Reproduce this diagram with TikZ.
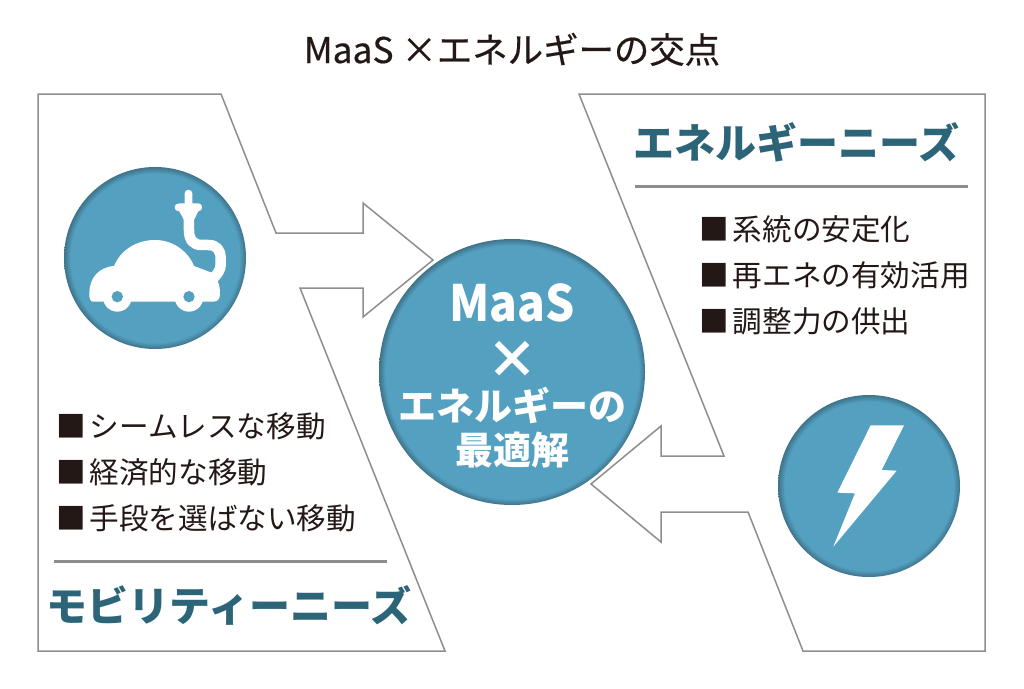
\documentclass[tikz,border=0pt]{standalone}
\usepackage{graphicx}
\usepackage{fontspec}
\setmainfont{Noto Sans CJK JP}
\newfontfamily\titlefont[FakeBold=0.5]{Noto Sans CJK JP}
\newcommand{\sqmark}{■\hspace{4pt}}
\definecolor{tealmain}{HTML}{54A0C1}
\definecolor{tealrim}{HTML}{3E7389}
\definecolor{headcol}{HTML}{2C6478}
\definecolor{inkcol}{HTML}{231815}
\definecolor{framecol}{HTML}{8E8E8E}
\definecolor{rulecol}{HTML}{8C8C8C}
\pgfdeclareradialshading{rimsmall}{\pgfpoint{0bp}{0bp}}{color(0bp)=(tealmain); color(23.2bp)=(tealmain); color(25bp)=(tealrim); color(50bp)=(tealrim)}
\pgfdeclareradialshading{rimbig}{\pgfpoint{0bp}{0bp}}{color(0bp)=(tealmain); color(23.8bp)=(tealmain); color(25bp)=(tealrim); color(50bp)=(tealrim)}
\tikzset{
  panel/.style={draw=framecol,line width=1.5pt,fill=white,line join=miter},
  disc/.style={circle,minimum size=182pt,inner sep=0pt,shading=rimsmall},
  bigdisc/.style={circle,minimum size=266pt,inner sep=0pt,shading=rimbig},
  titletext/.style={anchor=base,text=inkcol,font=\titlefont\fontsize{35.4}{36}\selectfont,inner sep=0pt},
  headtext/.style={anchor=base,text=headcol,font=\bfseries\fontsize{41}{41}\selectfont,inner sep=0pt},
  itemtext/.style={anchor=base west,text=inkcol,font=\fontsize{29.6}{30}\selectfont,inner sep=0pt},
  hubtext/.style={anchor=base,text=white,font=\bfseries\fontsize{38}{38}\selectfont,inner sep=0pt},
  rulebar/.style={draw=rulecol,line width=3pt},
  iconfill/.style={fill=white,draw=none},
}
\begin{document}
\begin{tikzpicture}[x=1pt,y=-1pt]
\useasboundingbox (0,0) rectangle (1024,688);
\fill[white] (0,0) rectangle (1024,688);
% panels
\draw[panel] (38,94) -- (221,94) -- (276,233) -- (363,233) -- (363,203) -- (433,260) -- (363,317) -- (363,288) -- (300,288) -- (445,651) -- (38,651) -- cycle;
\draw[panel] (579,94) -- (985,94) -- (985,651) -- (803,651) -- (748,512) -- (661,512) -- (661,542) -- (591,484) -- (661,426) -- (661,456) -- (724,456) -- cycle;
% discs
\node[disc] (car) at (155,258) {};
\node[disc] (bolt) at (869,486) {};
\node[bigdisc] (hub) at (512,372) {};
% car icon
\begin{scope}[shift={(40,150)},x=0.3333pt,y=-0.3333pt]
  \fill[iconfill] (148,430) .. controls (148,385) and (175,352) .. (222,348)
    .. controls (245,295) and (295,270) .. (345,270)
    .. controls (400,270) and (445,305) .. (462,348)
    -- (515,368) .. controls (530,385) and (540,400) .. (540,430)
    .. controls (540,445) and (535,455) .. (520,455)
    -- (160,455) .. controls (150,455) and (148,445) .. (148,430) -- cycle;
  \fill[iconfill] (232,442) circle (43);
  \fill[iconfill] (447,442) circle (43);
  \fill[tealmain] (232,440) circle (17);
  \fill[tealmain] (447,440) circle (17);
  \draw[white,line width=10.5pt,line join=round] (447,190) -- (447,240)
    .. controls (447,270) and (460,285) .. (485,285) -- (505,285)
    .. controls (530,285) and (542,300) .. (542,325) -- (542,345)
    .. controls (542,360) and (532,372) .. (520,385);
  \fill[iconfill] (434,160) -- (434,130) .. controls (434,116) and (457,116) .. (457,130) -- (457,160) -- (475,160)
    .. controls (490,160) and (490,184) .. (475,184)
    -- (463,208) -- (431,208) -- (418,184)
    .. controls (399,184) and (399,160) .. (418,160) -- cycle;
\end{scope}
% bolt icon
\begin{scope}[shift={(760,380)},x=0.3333pt,y=-0.3333pt]
  \fill[iconfill] (332,136) -- (432,136) -- (365,270) -- (410,272) -- (220,500) -- (285,340) -- (232,338) -- cycle;
\end{scope}
% texts
\node[titletext] (title) at (512,63) {MaaS ×エネルギーの交点};
\node[headtext] (enehead) at (796,158) {エネルギーニーズ};
\node[headtext] (mobhead) at (229,621) {モビリティーニーズ};
\coordinate (r1a) at (635,186); \coordinate (r1b) at (968,186);
\coordinate (r2a) at (54,561); \coordinate (r2b) at (387,561);
\draw[rulebar] (r1a) -- (r1b);
\draw[rulebar] (r2a) -- (r2b);
\node[itemtext] (e1) at (699,240) {\sqmark 系統の安定化};
\node[itemtext] (e2) at (699,286) {\sqmark 再エネの有効活用};
\node[itemtext] (e3) at (699,332) {\sqmark 調整力の供出};
\node[itemtext] (m1) at (56,437) {\sqmark シームレスな移動};
\node[itemtext] (m2) at (56,483) {\sqmark 経済的な移動};
\node[itemtext] (m3) at (56,529) {\sqmark 手段を選ばない移動};
\node[hubtext,font=\bfseries\fontsize{50}{50}\selectfont] (h1) at (512,321) {\scalebox{0.92}[1]{MaaS}};
\node[hubtext,font=\bfseries\fontsize{52}{52}\selectfont] (h2) at (512,378) {×};
\node[hubtext] (h3) at (512,420) {エネルギーの};
\node[hubtext] (h4) at (512,464) {最適解};
\end{tikzpicture}
\end{document}
